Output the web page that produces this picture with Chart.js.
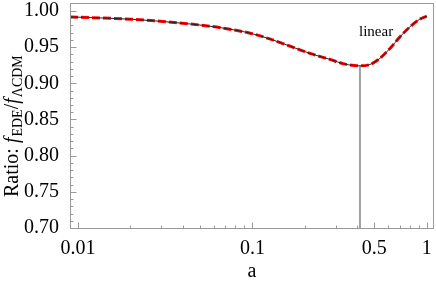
<!DOCTYPE html>
<html>
<head>
<meta charset="utf-8">
<script src="https://cdn.jsdelivr.net/npm/chart.js"></script>
<style>
  html, body { margin: 0; padding: 0; background: #fff; }
  #wrap { width: 436px; height: 284px; }
</style>
</head>
<body>
<div id="wrap"><canvas id="c" width="436" height="284"></canvas></div>
<script>
// scale factor a and the ratio f_EDE / f_LCDM
var aValues = [0.009, 0.02, 0.044, 0.066, 0.097, 0.127, 0.165, 0.214, 0.279, 0.34, 0.414, 0.472, 0.538, 0.615, 0.702, 0.80, 0.912, 1.0];
var ratioValues = [0.9918, 0.9886, 0.9820, 0.9768, 0.9693, 0.9610, 0.9512, 0.9413, 0.933, 0.9265, 0.9242, 0.926, 0.9344, 0.9482, 0.9642, 0.978, 0.9886, 0.9928];

// the vertical marker at the minimum
var markerA = [0.414, 0.414];
var markerRatio = [0.70, 0.9242];

var xTickValues = [0.01, 0.1, 0.5, 1];
var xMinorTicks = [0.02, 0.03, 0.04, 0.05, 0.06, 0.07, 0.08, 0.09, 0.2, 0.3, 0.4, 0.6, 0.7, 0.8, 0.9];
var yTickValues = [0.70, 0.75, 0.80, 0.85, 0.90, 0.95, 1.00];

var SERIF = '"Liberation Serif", "Times New Roman", serif';

function toPoints(xs, ys) {
    var pts = [];
    for (var i = 0; i < xs.length; i++) pts.push({ x: xs[i], y: ys[i] });
    return pts;
}

// frame, tick marks, rotated y title and the "linear" note
var decorations = {
    id: 'decorations',
    afterDraw: function (chart) {
        var ctx = chart.ctx;
        var area = chart.chartArea;
        var xs = chart.scales.x, ys = chart.scales.y;
        ctx.save();
        ctx.strokeStyle = '#999';
        ctx.lineWidth = 1;
        ctx.strokeRect(Math.round(area.left) + 0.5, Math.round(area.top) + 0.5,
            Math.round(area.right - area.left) - 1, Math.round(area.bottom - area.top));

        ctx.beginPath();
        var b = Math.round(area.bottom) + 0.5;
        xTickValues.forEach(function (v) {
            var px = Math.round(xs.getPixelForValue(v)) + 0.5;
            ctx.moveTo(px, b); ctx.lineTo(px, b - 6);
        });
        xMinorTicks.forEach(function (v) {
            var px = Math.round(xs.getPixelForValue(v)) + 0.5;
            ctx.moveTo(px, b); ctx.lineTo(px, b - 3);
        });
        var l = Math.round(area.left) + 0.5;
        for (var k = 70; k <= 100; k++) {
            var py = Math.round(ys.getPixelForValue(k / 100)) + 0.5;
            ctx.moveTo(l, py); ctx.lineTo(l + (k % 5 === 0 ? 6 : 3), py);
        }
        ctx.stroke();

        // y title
        ctx.fillStyle = '#000';
        ctx.translate(18, 197);
        ctx.rotate(-Math.PI / 2);
        ctx.textBaseline = 'alphabetic';
        var x = 0;
        var parts = [
            ['Ratio: ', '20px ' + SERIF, 0],
            ['f', 'italic 20px ' + SERIF, 0],
            ['EDE', '14px ' + SERIF, 4],
            ['/', '20px ' + SERIF, 0],
            ['f', 'italic 20px ' + SERIF, 0],
            ['\u039BCDM', '14px ' + SERIF, 4]
        ];
        parts.forEach(function (p) {
            ctx.font = p[1];
            ctx.fillText(p[0], x, p[2]);
            x += ctx.measureText(p[0]).width + (p[0] === 'f' ? 1 : 0);
        });
        ctx.restore();

        ctx.save();
        ctx.fillStyle = '#000';
        ctx.font = '15px ' + SERIF;
        ctx.textAlign = 'center';
        ctx.textBaseline = 'middle';
        ctx.fillText('linear', xs.getPixelForValue(0.512), ys.getPixelForValue(0.9707));
        ctx.restore();
    }
};

new Chart(document.getElementById('c').getContext('2d'), {
    type: 'line',
    data: {
        datasets: [
            {
                data: toPoints(markerA, markerRatio),
                borderColor: '#444',
                borderWidth: 1,
                pointRadius: 0,
                tension: 0
            },
            {
                data: toPoints(aValues, ratioValues),
                borderColor: '#222',
                borderWidth: 1,
                pointRadius: 0,
                cubicInterpolationMode: 'monotone'
            },
            {
                data: toPoints(aValues, ratioValues),
                borderColor: '#ff0000',
                borderWidth: 3,
                borderDash: [8, 3],
                pointRadius: 0,
                cubicInterpolationMode: 'monotone'
            }
        ]
    },
    options: {
        responsive: false,
        animation: false,
        events: [],
        layout: { padding: { top: 3, right: 2, left: 0, bottom: 0 } },
        plugins: { legend: { display: false }, tooltip: { enabled: false } },
        scales: {
            x: {
                type: 'logarithmic',
                min: 0.009,
                max: 1.1,
                grid: { display: false },
                border: { display: false },
                afterBuildTicks: function (scale) {
                    scale.ticks = xTickValues.map(function (v) { return { value: v }; });
                },
                afterFit: function (scale) {
                    scale.height = 56;
                    scale.paddingLeft = 0;
                    scale.paddingRight = 0;
                },
                ticks: {
                    autoSkip: false,
                    maxRotation: 0,
                    padding: 1,
                    color: '#000',
                    font: { family: SERIF, size: 20 },
                    callback: function (v) { return String(v); }
                },
                title: {
                    display: true,
                    text: 'a',
                    color: '#000',
                    padding: 0,
                    font: { family: SERIF, size: 20 }
                }
            },
            y: {
                min: 0.70,
                max: 1.011,
                grid: { display: false },
                border: { display: false },
                afterBuildTicks: function (scale) {
                    scale.ticks = yTickValues.map(function (v) { return { value: v }; });
                },
                afterFit: function (scale) {
                    scale.width = 70;
                    scale.paddingTop = 0;
                    scale.paddingBottom = 0;
                },
                ticks: {
                    padding: 3,
                    color: '#000',
                    font: { family: SERIF, size: 20 },
                    callback: function (v) { return Number(v).toFixed(2); }
                }
            }
        }
    },
    plugins: [decorations]
});
</script>
</body>
</html>
